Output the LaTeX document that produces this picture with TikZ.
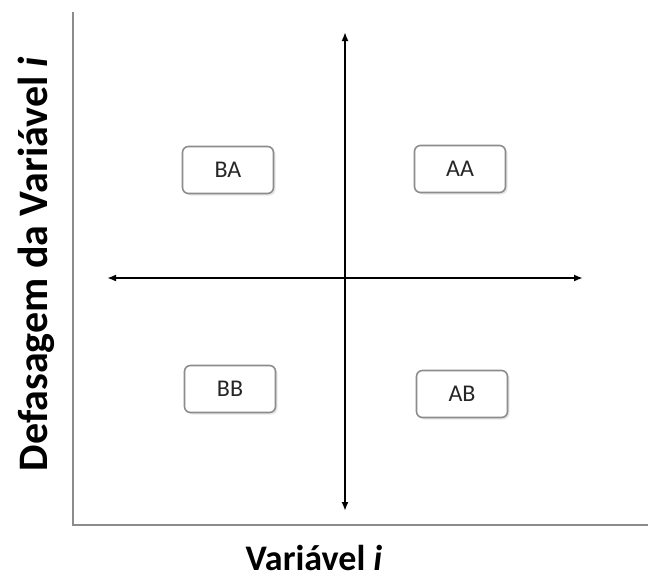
\documentclass[tikz,border=0pt]{standalone}
\usepackage{fontspec}
\setmainfont{Carlito}
\usetikzlibrary{arrows.meta,shadows}
\begin{document}
\begin{tikzpicture}[x=1pt,y=-1pt,
  quadbox/.style={draw=black!45,line width=1.6pt,rounded corners=6pt,fill=white,
    minimum width=91pt,minimum height=47pt,inner sep=0pt,text=black!85,font=\fontsize{24}{27}\selectfont,
    drop shadow={shadow xshift=2pt,shadow yshift=-2pt,fill=black!15,opacity=0.6}},
  axisline/.style={draw=black!45,line width=1.8pt},
  arr/.style={line width=2.2pt,{Latex[length=9pt,width=7pt]}-{Latex[length=9pt,width=7pt]}}]
\useasboundingbox (0,0) rectangle (648,579);
\coordinate (ftop) at (73,12);
\coordinate (fcorner) at (73,525);
\coordinate (fright) at (648,525);
\draw[axisline] (ftop) -- (fcorner) -- (fright);
\coordinate (vt) at (345,32);
\coordinate (vb) at (345,511);
\coordinate (hl) at (107,278);
\coordinate (hr) at (583,278);
\draw[arr] (vt) -- (vb);
\draw[arr] (hl) -- (hr);
\node[quadbox] (BA) at (228,170) {BA};
\node[quadbox] (AA) at (460,169) {AA};
\node[quadbox] (BB) at (230,389) {BB};
\node[quadbox] (AB) at (462,394) {AB};
\node[font=\bfseries\fontsize{36}{40}\selectfont,anchor=base,inner sep=0pt] (xl) at (314,570) {Variável \textit{i}};
\node[font=\bfseries\fontsize{42}{46}\selectfont,rotate=90,anchor=base,inner sep=0pt] (yl) at (47,264) {Defasagem da Variável \textit{i}};
\end{tikzpicture}
\end{document}
